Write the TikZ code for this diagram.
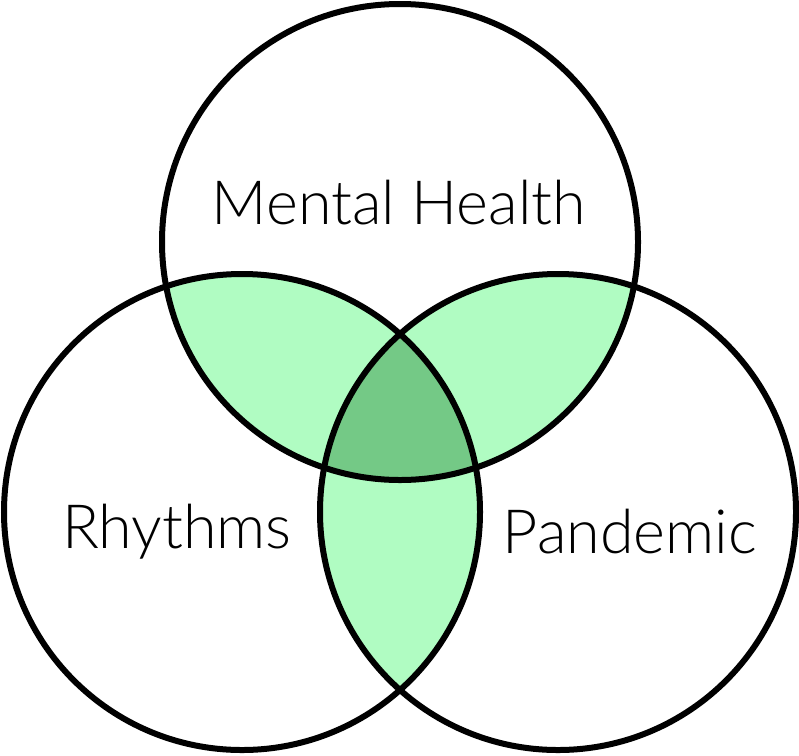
\documentclass[tikz,border=0pt]{standalone}
\usepackage{fontspec}
\setmainfont{Lato Light}
\definecolor{pairgreen}{RGB}{176,252,194}
\definecolor{triplegreen}{RGB}{116,201,134}

\begin{document}
\begin{tikzpicture}[
    x=1pt, y=-1pt,
    ring/.style={draw=black, line width=6pt},
    setname/.style={font=\fontsize{61}{61}\selectfont, inner sep=0pt}
  ]
  \useasboundingbox (0,0) rectangle (799,755);
  % Circle centres
  \coordinate (mh) at (400,242);
  \coordinate (rh) at (242,512);
  \coordinate (pd) at (558,512);
  \def\rad{238}

  % Pairwise overlaps
  \begin{scope}
    \clip (mh) circle (\rad);
    \fill[pairgreen] (rh) circle (\rad);
    \fill[pairgreen] (pd) circle (\rad);
  \end{scope}
  \begin{scope}
    \clip (rh) circle (\rad);
    \fill[pairgreen] (pd) circle (\rad);
  \end{scope}

  % Triple overlap
  \begin{scope}
    \clip (mh) circle (\rad);
    \clip (rh) circle (\rad);
    \fill[triplegreen] (pd) circle (\rad);
  \end{scope}

  % Outlines
  \draw[ring] (mh) circle (\rad);
  \draw[ring] (rh) circle (\rad);
  \draw[ring] (pd) circle (\rad);

  % Set names
  \node[setname] (mhname) at (399,203) {Mental Health};
  \node[setname] (rhname) at (177,532) {Rhythms};
  \node[setname] (pdname) at (630,532) {Pandemic};
\end{tikzpicture}
\end{document}
